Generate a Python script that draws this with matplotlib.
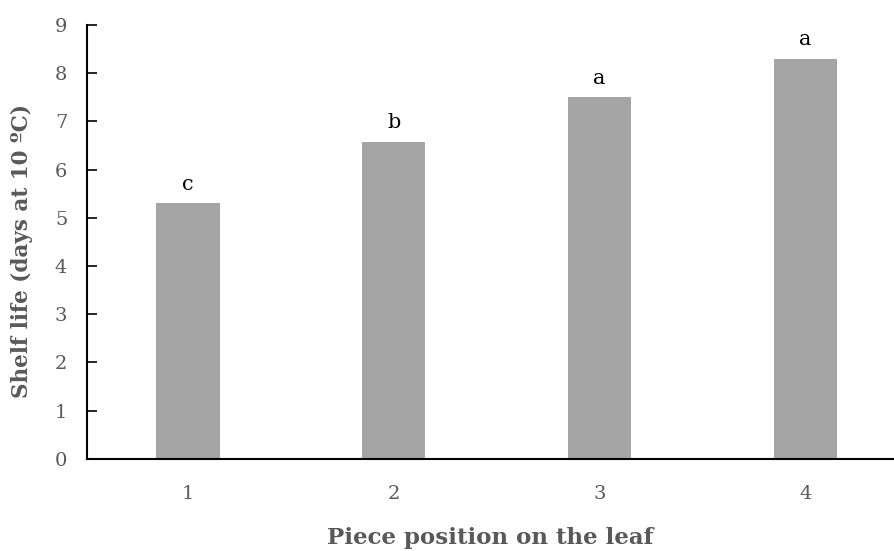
import numpy as np
from matplotlib import pyplot as plt

positions = ['1', '2', '3', '4']
shelf_life = [5.3, 6.58, 7.5, 8.3]
letters = ['c', 'b', 'a', 'a']

plt.rcParams['font.family'] = ['DejaVu Serif']

fig = plt.figure(figsize=(8.94, 5.51), dpi=100)
ax = fig.add_axes([0.097, 0.167, 0.903, 0.788])

x = np.arange(len(positions))
bars = ax.bar(x, shelf_life, width=0.31, color='#a5a5a5')
for xi, v, lab in zip(x, shelf_life, letters):
    ax.text(xi, v + 0.2, lab, ha='center', va='bottom', fontsize=15, color='black')

ax.set_xlim(-0.49, 3.43)
ax.set_ylim(0, 9)
ax.set_yticks(range(0, 10))
ax.set_xticks(x)
ax.set_xticklabels(positions)

for s in ['top', 'right']:
    ax.spines[s].set_visible(False)
for s in ['left', 'bottom']:
    ax.spines[s].set_linewidth(1.5)
    ax.spines[s].set_color('black')

ax.tick_params(axis='y', direction='in', length=7, width=1.2, labelsize=14,
               labelcolor='#595959', pad=14)
ax.tick_params(axis='x', length=0, labelsize=14, labelcolor='#595959', pad=19)

ax.set_xlabel('Piece position on the leaf', fontsize=16.5, fontweight='bold',
              color='#595959', labelpad=17)
ax.set_ylabel('Shelf life (days at 10 ºC)', fontsize=15.5, fontweight='bold',
              color='#595959')
ax.yaxis.set_label_coords(-0.067, 0.48)

plt.savefig('out.png', dpi=100)
